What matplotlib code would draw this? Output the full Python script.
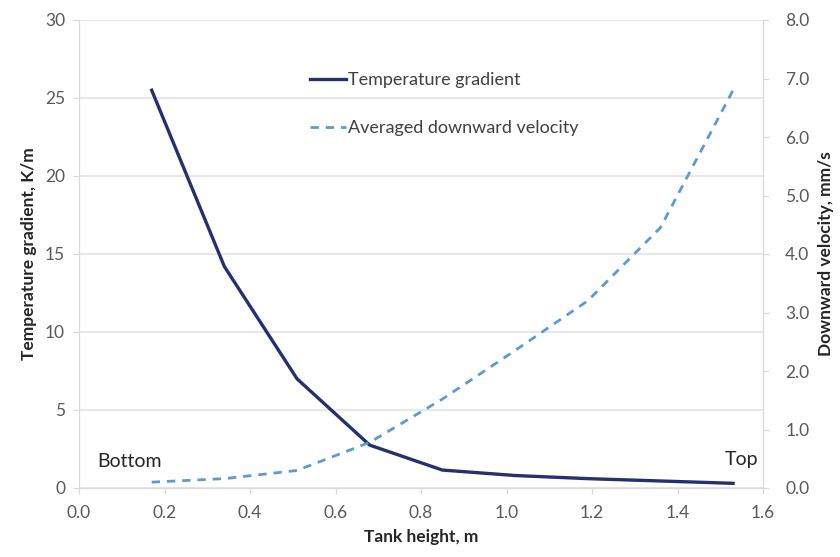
import matplotlib.pyplot as plt
import numpy as np

# tank height positions (m)
height = [0.17, 0.34, 0.51, 0.68, 0.85, 1.02, 1.19, 1.36, 1.53]
# temperature gradient (K/m), left axis
temp_grad = [25.5, 14.2, 7.0, 2.75, 1.15, 0.8, 0.6, 0.45, 0.3]
# averaged downward velocity (mm/s), right axis
velocity = [0.1, 0.16, 0.3, 0.78, 1.52, 2.35, 3.2, 4.45, 6.8]

xticks = [0.0, 0.2, 0.4, 0.6, 0.8, 1.0, 1.2, 1.4, 1.6]
yticks_left = [0, 5, 10, 15, 20, 25, 30]
yticks_right = [0, 1, 2, 3, 4, 5, 6, 7, 8]

plt.rcParams['font.family'] = ['Lato', 'DejaVu Sans']
grey = '#595959'
axcol = '#d9d9d9'

fig = plt.figure(figsize=(8.4, 5.57), dpi=100)
ax = fig.add_axes([79/840, 1 - 488/557, (763 - 79)/840, (488 - 20)/557])
ax2 = ax.twinx()

ax.set_xlim(0, 1.6)
ax.set_ylim(0, 30)
ax2.set_ylim(0, 8)

ax.yaxis.grid(True, color='#e3e3e3', lw=1.2)
ax.set_axisbelow(True)

l1, = ax.plot(height, temp_grad, '-', color='#25306e', lw=2.4,
              label='Temperature gradient', zorder=3)
l2, = ax2.plot(height, velocity, '--', color='#5b9bd5', lw=2.0,
               dashes=(3, 2.5), label='Averaged downward velocity')

ax.set_xticks(xticks)
ax.set_xticklabels(['%.1f' % v for v in xticks])
ax.set_yticks(yticks_left)
ax2.set_yticks(yticks_right)
ax2.set_yticklabels(['%.1f' % v for v in yticks_right])

for a in (ax, ax2):
    for s in a.spines.values():
        s.set_color(axcol)
    a.spines['top'].set_visible(False)
    a.tick_params(colors=axcol, labelcolor=grey, labelsize=12.5, length=4)
ax.spines['bottom'].set_color('#bfbfbf')
ax.tick_params(axis='x', pad=8)
ax.tick_params(axis='y', pad=6)
ax2.tick_params(axis='y', pad=12)

ax.set_xlabel('Tank height, m', fontsize=12.5, fontweight='bold', color='#262626', labelpad=6)
ax.set_ylabel('Temperature gradient, K/m', fontsize=12.5, fontweight='bold', color='#262626', labelpad=6)
ax2.set_ylabel('Downward velocity, mm/s', fontsize=12.5, fontweight='bold', color='#262626', labelpad=6)

ax.text(0.042, 1.7, 'Bottom', fontsize=14, color='#262626', va='center')
ax.text(1.51, 1.8, 'Top', fontsize=14, color='#262626', va='center')

fig.legend(handles=[l1, l2], loc='upper left', bbox_to_anchor=(310/840, 1 - 72/557),
           frameon=False, fontsize=13, labelcolor='#404040', handlelength=2.0,
           handletextpad=0.1, labelspacing=1.8, borderpad=0, borderaxespad=0)

fig.savefig('out.png', dpi=100)
